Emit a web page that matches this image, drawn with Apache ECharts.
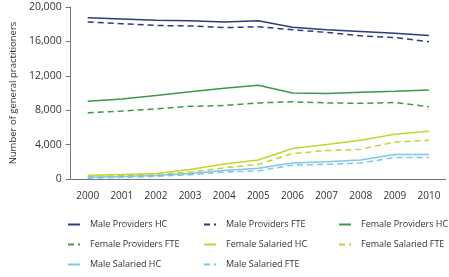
<!DOCTYPE html>
<html>
<head>
<meta charset="utf-8">
<script src="https://cdn.jsdelivr.net/npm/echarts@6/dist/echarts.min.js"></script>
<style>
html, body { margin: 0; padding: 0; background: #fff; }
#main { width: 449px; height: 277px; }
</style>
</head>
<body>
<div id="main"></div>
<script>
var years = ['2000', '2001', '2002', '2003', '2004', '2005', '2006', '2007', '2008', '2009', '2010'];
var yTicks = [0, 4000, 8000, 12000, 16000, 20000];

var maleProvidersHC = [18750, 18600, 18450, 18400, 18250, 18400, 17650, 17350, 17150, 16950, 16700];
var maleProvidersFTE = [18250, 18050, 17850, 17800, 17600, 17700, 17350, 17050, 16650, 16450, 15950];
var femaleProvidersHC = [9050, 9300, 9700, 10150, 10550, 10900, 10000, 9950, 10100, 10200, 10350];
var femaleProvidersFTE = [7700, 7900, 8150, 8450, 8550, 8850, 8980, 8850, 8800, 8900, 8400];
var femaleSalariedHC = [450, 520, 650, 1100, 1750, 2200, 3550, 4000, 4500, 5200, 5550];
var femaleSalariedFTE = [300, 380, 500, 800, 1300, 1700, 2950, 3300, 3450, 4300, 4500];
var maleSalariedHC = [200, 300, 420, 650, 1000, 1250, 1850, 2000, 2200, 2850, 2850];
var maleSalariedFTE = [100, 200, 300, 500, 800, 950, 1600, 1700, 1850, 2500, 2500];

var navy = '#2e3b7c';
var green = '#3b9a48';
var lime = '#c5d52e';
var sky = '#7ec6ea';

var myChart = echarts.init(document.getElementById('main'));

function line(name, data, color, dashed) {
    return {
        name: name,
        type: 'line',
        data: data,
        symbol: 'none',
        silent: true,
        lineStyle: { color: color, width: 1.5, type: dashed ? [6, 4] : 'solid' },
        itemStyle: { color: color }
    };
}

// one vertical legend per column, as in the source layout
function legendCol(left, names) {
    return {
        orient: 'vertical',
        left: left,
        top: 220,
        padding: 0,
        itemWidth: 12,
        itemHeight: 10,
        itemGap: 11,
        itemStyle: { opacity: 0 },
        lineStyle: { width: 2 },
        textStyle: { fontFamily: 'Open Sans', fontSize: 9, color: '#333', padding: [0, 0, 0, 5] },
        data: names
    };
}

var option = {
    animation: false,
    textStyle: { fontFamily: 'Open Sans' },
    grid: { left: 67, right: 3, top: 7, bottom: 98 },
    legend: [
        legendCol(67, ['Male Providers HC', 'Female Providers FTE', 'Male Salaried HC']),
        legendCol(203, ['Male Providers FTE', 'Female Salaried HC', 'Male Salaried FTE']),
        legendCol(338, ['Female Providers HC', 'Female Salaried FTE'])
    ],
    xAxis: {
        type: 'category',
        data: years,
        boundaryGap: true,
        axisLine: { lineStyle: { color: '#777', width: 1 } },
        axisTick: { length: 5, lineStyle: { color: '#777' } },
        axisLabel: { color: '#333', fontSize: 10, margin: 12 }
    },
    yAxis: {
        type: 'value',
        min: 0,
        max: 20000,
        interval: 4000,
        name: 'Number of general practitioners',
        nameLocation: 'middle',
        nameGap: 51,
        nameTextStyle: { color: '#333', fontSize: 9.5 },
        splitLine: { show: false },
        axisLine: { show: true, lineStyle: { color: '#777', width: 1 } },
        axisTick: { show: true, length: 5, lineStyle: { color: '#777' } },
        axisLabel: {
            color: '#333',
            fontSize: 10.5,
            margin: 9,
            formatter: function (v) { return yTicks.indexOf(v) >= 0 ? v.toLocaleString('en-US') : ''; }
        }
    },
    series: [
        line('Male Providers HC', maleProvidersHC, navy, false),
        line('Male Providers FTE', maleProvidersFTE, navy, true),
        line('Female Providers HC', femaleProvidersHC, green, false),
        line('Female Providers FTE', femaleProvidersFTE, green, true),
        line('Female Salaried HC', femaleSalariedHC, lime, false),
        line('Female Salaried FTE', femaleSalariedFTE, lime, true),
        line('Male Salaried HC', maleSalariedHC, sky, false),
        line('Male Salaried FTE', maleSalariedFTE, sky, true)
    ]
};

myChart.setOption(option);
</script>
</body>
</html>
